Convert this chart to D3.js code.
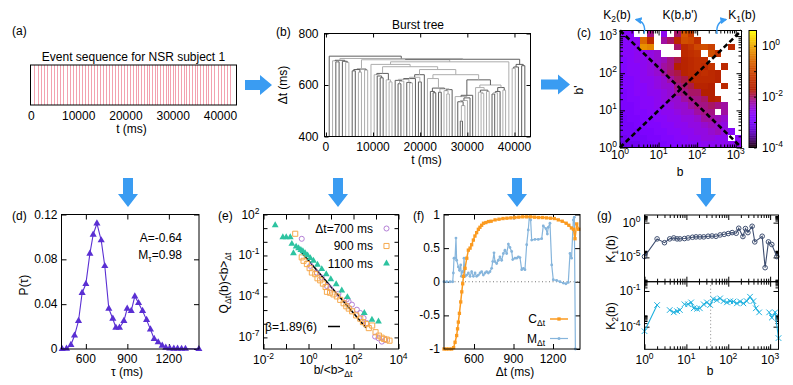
<html>
<head>
<meta charset="utf-8">
<script src="https://d3js.org/d3.v7.min.js"></script>
<style>
  body { margin: 0; background: #fff; }
  svg text { font-family: "Liberation Sans", Arial, sans-serif; font-size: 12px; fill: #000; }
</style>
</head>
<body>
<svg id="fig" width="793" height="385"></svg>
<script>
// ---------------- data ----------------

// (a),(b): first event time and the inter-event times (ms) of the shown sequence
const t0 = 700;
const gaps = [712, 694, 690, 696, 692, 688, 703,
  655, 660, 650, 662, 658, 698,
  680, 640, 635, 628, 645, 620, 612, 671, 618, 605, 615, 622, 610, 608, 625, 630, 612, 640, 660, 625,
  575, 570, 588, 572, 585, 578, 565, 582, 640,
  555, 535, 460, 520, 540, 550, 560,
  620, 590, 572, 568, 580, 575, 600, 565, 570, 575, 590, 580,
  690, 700, 665, 670, 680, 675];

// (c): log10 K(b,b'), rows from top (large b') to bottom, columns small b -> large b; null = empty
const hmVals = [
  [-2.7,-2.7,null,null,-2.1,null,-2.6,null,-2.0,-0.8,-1.2,null,null,null,null,null,null,null],
  [-2.7,-2.7,-2.6,-0.6,-1.5,null,-2.2,-2.0,-1.5,-0.9,-1.0,-1.4,null,null,null,null,null,null],
  [-2.7,-2.7,-2.6,-0.2,-0.3,null,null,null,-2.0,-1.5,-1.3,-1.0,-0.9,-1.1,null,null,-1.5,null],
  [-2.7,-2.7,-2.6,-2.6,-2.5,-2.4,null,null,null,-1.5,-1.4,-1.3,null,-0.9,-1.3,null,null,null],
  [-2.8,-2.7,-2.6,-2.6,-2.5,-2.4,-2.3,-2.1,-1.9,-1.6,-1.5,-1.4,-1.4,null,null,null,null,null],
  [-2.8,-2.7,-2.7,-2.6,-2.5,-2.4,-2.2,-2.1,-1.7,-1.6,-1.5,-1.4,-1.5,-1.3,null,-1.5,null,null],
  [-2.8,-2.7,-2.7,-2.6,-2.5,-2.4,-2.2,-2.0,-1.9,-1.6,-1.5,-1.5,-1.4,-1.5,-1.6,null,null,null],
  [-2.8,-2.8,-2.7,-2.6,-2.6,-2.5,-2.4,-2.2,-2.0,-1.9,-1.6,-1.5,-1.5,-1.5,-1.6,null,null,null],
  [-2.8,-2.8,-2.7,-2.7,-2.6,-2.5,-2.4,-2.4,-2.1,-2.0,-1.9,-1.6,-1.6,-1.7,null,-1.5,null,null],
  [-2.9,-2.8,-2.7,-2.7,-2.6,-2.6,-2.5,-2.4,-2.2,-2.1,-2.0,-2.0,-1.7,-1.7,null,null,null,null],
  [-2.9,-2.8,-2.8,-2.7,-2.7,-2.6,-2.5,-2.4,-2.4,-2.2,-2.1,-2.1,-2.0,-1.7,-1.6,null,null,null],
  [-2.9,-2.9,-2.8,-2.7,-2.7,-2.6,-2.6,-2.5,-2.4,-2.4,-2.2,-2.1,-2.1,-2.0,-2.1,-2.2,null,null],
  [-2.9,-2.9,-2.8,-2.8,-2.7,-2.7,-2.6,-2.6,-2.5,-2.4,-2.4,-2.2,-2.1,-2.1,null,-2.2,null,null],
  [-3.0,-2.9,-2.9,-2.8,-2.8,-2.7,-2.7,-2.6,-2.6,-2.5,-2.5,-2.4,-2.2,-2.2,-2.3,-2.4,null,null],
  [-3.0,-3.0,-2.9,-2.9,-2.8,-2.8,-2.7,-2.7,-2.6,-2.6,-2.5,-2.5,-2.4,-2.3,-2.4,-2.5,null,null],
  [-3.0,-3.0,-3.0,-2.9,-2.9,-2.8,-2.8,-2.7,-2.7,-2.6,-2.6,-2.5,-2.5,-2.4,-2.3,-2.5,-2.7,null],
  [-3.1,-3.0,-3.0,-3.0,-2.9,-2.9,-2.8,-2.8,-2.7,-2.7,-2.6,-2.6,-2.5,-2.5,-2.6,-2.6,null,-2.7],
  [-3.2,-3.1,-3.1,-3.0,-3.0,-2.9,-2.9,-2.8,-2.8,-2.7,-2.7,-2.7,-2.6,-2.6,-2.6,-2.6,-2.6,-2.6]
];
const bMax = 1413;

// (d): P(tau)
const tauD = [429, 460, 492, 518, 547, 573, 600, 629, 653, 680, 711, 737, 766, 795, 817, 843, 875, 899,
  928, 954, 981, 1010, 1039, 1067, 1094, 1123, 1152, 1178, 1207, 1236, 1263, 1292, 1320, 1417];
const pTau = [0, 0.0003, 0.0036, 0.012, 0.025, 0.050, 0.058, 0.085, 0.102, 0.112, 0.097, 0.074, 0.036, 0.027,
  0.019, 0.019, 0.025, 0.036, 0.034, 0.047, 0.041, 0.034, 0.026, 0.0175, 0.009, 0.006, 0.003, 0.0012,
  0.0006, 0.0003, 0.0003, 0.0002, 0.0002, 0];

// (e): [log10(b/<b>), log10(Q<b>)] for the three windows
const q700 = [[-0.30,0.22],[0.08,-1.76],[0.37,-2.25],[0.59,-2.62],[0.82,-3.24],[0.96,-3.41],[1.33,-3.81],
  [1.70,-4.22],[1.78,-4.35],[1.93,-4.60],[2.15,-4.97],[2.30,-5.21],[2.45,-5.58],[2.59,-5.95],[2.96,-6.94],
  [3.11,-7.06],[3.26,-7.31],[3.41,-7.19]];
const q900 = [[-0.59,0.59],[-0.30,-1.14],[-0.22,-1.39],[-0.07,-1.63],[0.05,-1.93],[0.15,-2.25],[0.30,-2.37],
  [0.40,-2.67],[0.52,-2.82],[0.64,-3.06],[0.76,-3.31],[0.82,-3.66],[0.96,-3.73],[1.11,-3.85],[1.26,-4.00],
  [1.41,-4.25],[1.56,-4.50],[1.68,-4.72],[1.79,-4.89],[1.94,-5.09],[2.12,-5.39],[2.30,-5.63],[2.42,-5.88],
  [2.56,-6.03],[2.68,-6.32],[2.83,-6.13],[2.98,-6.62],[3.13,-6.87],[3.25,-7.02],[3.36,-7.11],[3.48,-7.16],[3.60,-7.24]];
const q1100 = [[-1.48,1.21],[-1.14,0.34],[-0.99,0.34],[-0.81,0.34],[-0.74,-0.15],[-0.67,-0.84],[-0.55,-0.35],
  [-0.44,-0.47],[-0.34,-0.60],[-0.25,-0.69],[-0.15,-0.84],[-0.04,-0.99],[0.08,-1.19],[0.22,-1.39],[0.40,-1.68],
  [0.59,-2.00],[0.79,-2.37],[0.99,-2.74],[1.23,-3.11],[1.48,-3.56],[1.73,-4.05],[2.48,-5.21],[2.82,-5.71],[3.11,-5.83]];
const fitB = [0.45, 360];
const fitQ = [0.2, 5e-7];

// (f): C and M versus Delta t
const cDt = [372, 390, 410, 430, 445, 456, 468, 475, 481, 489, 499, 507, 514, 520, 532, 545, 557, 570, 582, 595,
  607, 620, 633, 645, 658, 672, 690, 710, 730, 760, 790, 820, 850, 880, 910, 940, 970, 1000, 1030, 1060,
  1090, 1120, 1150, 1180, 1210, 1240, 1270, 1300, 1320, 1340, 1355, 1367, 1380, 1395];
const cVal = [-1, -1, -1, -1, -0.98, -0.9, -0.8, -0.7, -0.6, -0.47, -0.3, -0.15, -0.03, 0.08, 0.2, 0.35, 0.47, 0.5, 0.55, 0.62,
  0.68, 0.73, 0.78, 0.81, 0.84, 0.87, 0.88, 0.895, 0.9, 0.92, 0.93, 0.94, 0.945, 0.95, 0.955, 0.96, 0.965, 0.965, 0.965, 0.96,
  0.955, 0.955, 0.95, 0.945, 0.94, 0.92, 0.9, 0.87, 0.84, 0.8, 0.78, 0.64, 0.86, 0.78];
const mDt = [372, 393, 418, 438, 443, 448, 456, 463, 468, 481, 489, 499, 504, 512, 519, 524, 532, 544, 557, 570,
  582, 595, 608, 620, 633, 646, 658, 671, 684, 696, 709, 721, 734, 742, 752, 759, 772, 785, 797, 810,
  823, 835, 848, 861, 873, 886, 894, 911, 924, 937, 949, 962, 975, 987, 1000, 1012, 1020, 1030, 1038, 1063,
  1088, 1114, 1126, 1146, 1157, 1164, 1177, 1190, 1202, 1228, 1253, 1278, 1298, 1316, 1329, 1341, 1354, 1362, 1370];
const mVal = [0, 0, 0, 0, 0.13, 0.35, 0.35, 0.65, 0.32, 0.22, 0.17, 0.25, 0.08, 0.15, 0.15, 0.35, 0.08, 0.1, 0.13, 0.08,
  0.15, 0.08, 0.13, 0.08, 0.1, 0.13, 0.15, 0.1, 0.13, 0.15, 0.13, 0.15, 0.2, 0.3, 0.43, 0.3, 0.27, 0.32, 0.37, 0.32,
  0.42, 0.47, 0.42, 0.56, 0.51, 0.45, 0.33, 0.35, 0.35, 0.37, 0.36, 0.18, 0.2, 0.18, 0.55, 0.77, 0.96, 0.92, 0.62, 0.63,
  0.63, 0.64, 0.83, 0.79, 0.71, 0.81, 0.87, 0.25, 0.03, 0.02, 0.0, -0.02, -0.03, -0.01, 0.42, 0.35, 0.92, 0.96, -1.0];

// (g): K1(b), K2(b)
const k1B = [1, 2, 3, 4, 5, 6, 7, 9, 11, 14, 17, 21, 26, 33, 41, 51, 64, 80, 100, 124, 155, 178, 224, 257, 295, 372, 430, 646, 759, 912, 1096, 1445];
const k1 = [1.3e-5, 4.6e-3, 1.3e-3, 4.6e-3, 6.3e-3, 4.6e-3, 4.6e-3, 5.1e-3, 6.3e-3, 7.9e-3, 8.9e-3, 8.9e-3, 8.9e-3, 1.1e-2,
  1.2e-2, 1.1e-2, 1.7e-2, 2.1e-2, 2.7e-2, 3.7e-2, 3.0e-2, 0.155, 1.0e-2, 0.14, 3.7e-2, 0.3, 1.7e-3, 1.1e-2, 3.3e-7, 1.7e-3, 7.2e-4, 1.3e-5];
const k2B = [1, 2, 3, 4, 5, 6, 7, 8, 9, 11, 13, 15, 18, 21, 26, 31, 37, 44, 53, 64, 77, 93, 111, 133, 161, 192, 230, 276, 331, 398,
  456, 547, 650, 800, 950, 1096, 1318, 1585];
const k2 = [4.2e-5, 6.6e-3, null, 2.5e-3, 1.6e-3, 2.0e-3, 2.5e-3, null, 7.6e-3, 7.6e-3, 1.1e-2, 3.5e-3, 3.2e-3, 3.5e-3, 7.6e-3,
  1.1e-2, 6.6e-3, 2.1e-2, 1.7e-2, 2.4e-2, 1.4e-2, 1.1e-2, 1.4e-2, 1.3e-2, 9.1e-3, 1.3e-2, 9.1e-3, 1.4e-2, 3.3e-2, 1.4e-2,
  3.5e-3, 1.6e-3, null, null, 1.6e-3, 5.8e-4, 1.6e-3, 1.1e-5];
const bStar = 38;

// ---------------- drawing ----------------
const svg = d3.select("#fig");
const BLUE = "#3a9cf2";

function txt(g, x, y, anchor) {
  return g.append("text").attr("x", x).attr("y", y).attr("text-anchor", anchor || "middle");
}
function sup(t, base, e) {
  t.text(base);
  t.append("tspan").attr("dy", -5).attr("font-size", "8.5px").text(e);
  return t;
}
function sub(t, base, s, rest) {
  t.text(base);
  t.append("tspan").attr("dy", 3).attr("font-size", "8.5px").text(s);
  if (rest) t.append("tspan").attr("dy", -3).text(rest);
  return t;
}
function frame(g, w, h) {
  g.append("rect").attr("width", w).attr("height", h)
    .attr("fill", "none").attr("stroke", "#000").attr("stroke-width", 1);
}
// inward ticks on both sides
function ticksX(g, x, h, vals, len) {
  g.append("g").attr("transform", `translate(0,${h})`)
    .call(d3.axisBottom(x).tickValues(vals).tickSize(-len).tickFormat(""))
    .call(a => a.select(".domain").remove());
  g.append("g")
    .call(d3.axisTop(x).tickValues(vals).tickSize(-len).tickFormat(""))
    .call(a => a.select(".domain").remove());
}
function ticksY(g, y, w, vals, len) {
  g.append("g")
    .call(d3.axisLeft(y).tickValues(vals).tickSize(-len).tickFormat(""))
    .call(a => a.select(".domain").remove());
  g.append("g").attr("transform", `translate(${w},0)`)
    .call(d3.axisRight(y).tickValues(vals).tickSize(-len).tickFormat(""))
    .call(a => a.select(".domain").remove());
}
function logMinors(lo, hi) {
  const out = [];
  for (let k = Math.floor(Math.log10(lo)); k <= Math.ceil(Math.log10(hi)); k++)
    for (let m = 2; m <= 9; m++) { const v = m * 10 ** k; if (v > lo && v < hi) out.push(v); }
  return out;
}

// big blue arrows between panels
function rightArrow(x0, x1, cy) {
  svg.append("polygon").attr("fill", BLUE)
    .attr("points", [[x0, cy - 5], [x1 - 12, cy - 5], [x1 - 12, cy - 10], [x1, cy], [x1 - 12, cy + 10], [x1 - 12, cy + 5], [x0, cy + 5]].join(" "));
}
function downArrow(cx, y0, y1) {
  svg.append("polygon").attr("fill", BLUE)
    .attr("points", [[cx - 5, y0], [cx + 5, y0], [cx + 5, y1 - 13], [cx + 10, y1 - 13], [cx, y1], [cx - 10, y1 - 13], [cx - 5, y1 - 13]].join(" "));
}
rightArrow(245, 272, 85);
rightArrow(541, 570, 84.5);
[128, 338, 517, 706].forEach(cx => downArrow(cx, 178, 207));

// events
const events = [t0];
gaps.forEach(g => events.push(events[events.length - 1] + g));

// ---- (a) event sequence ----
const wa = 206, ha = 40;
const pa = svg.append("g").attr("transform", "translate(30.5,65)");
const xa = d3.scaleLinear().domain([-200, 43400]).range([0, wa]);
pa.selectAll("line.ev").data(events).join("line").attr("class", "ev")
  .attr("x1", d => xa(d)).attr("x2", d => xa(d)).attr("y1", 0).attr("y2", ha)
  .attr("stroke", "#f3a2b0").attr("stroke-width", 1).attr("shape-rendering", "crispEdges");
frame(pa, wa, ha);
[0, 10000, 20000, 30000, 40000].forEach(v => txt(pa, xa(v), 55).text(v));
txt(pa, 101, 67.5).text("t (ms)");
txt(pa, 103, -4.5).text("Event sequence for NSR subject 1");
txt(svg, 12, 35, "start").text("(a)");

// ---- (b) burst tree ----
const wb = 206, hb = 103;
const pb = svg.append("g").attr("transform", "translate(324.5,33.5)");
const xb = d3.scaleLinear().domain([-300, 43400]).range([0, wb]);
const yb = d3.scaleLinear().domain([400, 800]).range([hb, 0]);
const owner = events.map(t => ({ x: t, h: 400 }));
const treeSegs = [];
d3.range(gaps.length).sort((a, b) => gaps[a] - gaps[b]).forEach((k, n) => {
  const A = owner[k], B = owner[k + 1], h = gaps[k];
  const c = n % 2 ? "#adadad" : "#5e5e5e";
  treeSegs.push({ x1: A.x, y1: A.h, x2: A.x, y2: h, c });
  treeSegs.push({ x1: B.x, y1: B.h, x2: B.x, y2: h, c });
  treeSegs.push({ x1: A.x, y1: h, x2: B.x, y2: h, c });
  const M = { x: (A.x + B.x) / 2, h };
  owner.forEach((o, i) => { if (o === A || o === B) owner[i] = M; });
});
pb.selectAll("line.tr").data(treeSegs).join("line").attr("class", "tr")
  .attr("x1", d => xb(d.x1)).attr("x2", d => xb(d.x2))
  .attr("y1", d => yb(d.y1)).attr("y2", d => yb(d.y2))
  .attr("stroke", d => d.c).attr("stroke-width", 1);
ticksX(pb, xb, hb, [0, 10000, 20000, 30000, 40000], 4);
ticksY(pb, yb, wb, [400, 600, 800], 4);
frame(pb, wb, hb);
[0, 10000, 20000, 30000, 40000].forEach(v => txt(pb, xb(v), hb + 14.5).text(v));
[400, 600, 800].forEach(v => txt(pb, -6, yb(v) + 4, "end").text(v));
txt(pb, 102, hb + 27).text("t (ms)");
txt(pb, 93.5, -4.5).text("Burst tree");
txt(svg, 276, 36, "start").text("(b)");
svg.append("text").attr("transform", "translate(287,85) rotate(-90)").attr("text-anchor", "middle").text("Δt (ms)");

// ---- (c) K(b,b') heat map ----
const wc = 121.5, hc = 117;
const pc = svg.append("g").attr("transform", "translate(620,30.5)");
const xc = d3.scaleLog().domain([1, bMax]).range([0, wc]);
const yc = d3.scaleLog().domain([1, bMax]).range([hc, 0]);
const gnuPal = t => {
  t = Math.max(0, Math.min(1, t));
  return d3.rgb(255 * Math.sqrt(t), 255 * t * t * t, 255 * Math.max(0, Math.sin(2 * Math.PI * t))).formatHex();
};
const colK = d3.scaleSequential(gnuPal).domain([-4, 0.6]);
const nR = hmVals.length, nC = hmVals[0].length;
const lStep = Math.log10(bMax) / nC;
const cells = [];
hmVals.forEach((row, r) => row.forEach((v, c) => { if (v !== null) cells.push({ r, c, v }); }));
pc.selectAll("rect.cell").data(cells).join("rect").attr("class", "cell")
  .attr("x", d => xc(10 ** (d.c * lStep)))
  .attr("width", d => xc(10 ** ((d.c + 1) * lStep)) - xc(10 ** (d.c * lStep)))
  .attr("y", d => yc(10 ** ((nR - d.r) * lStep)))
  .attr("height", d => yc(10 ** ((nR - d.r - 1) * lStep)) - yc(10 ** ((nR - d.r) * lStep)))
  .attr("fill", d => colK(d.v)).attr("shape-rendering", "crispEdges");
const dashLines = [[[1, 1], [bMax, bMax]], [[1, bMax], [bMax, 1]]];
pc.selectAll("line.dg").data(dashLines).join("line").attr("class", "dg")
  .attr("x1", d => xc(d[0][0])).attr("y1", d => yc(d[0][1]))
  .attr("x2", d => xc(d[1][0])).attr("y2", d => yc(d[1][1]))
  .attr("stroke", "#000").attr("stroke-width", 2.6).attr("stroke-dasharray", "5,3");
ticksX(pc, xc, hc, [1, 10, 100, 1000], 5);
ticksX(pc, xc, hc, logMinors(1, bMax), 3);
ticksY(pc, yc, wc, [1, 10, 100, 1000], 5);
ticksY(pc, yc, wc, logMinors(1, bMax), 3);
frame(pc, wc, hc);
[0, 1, 2, 3].forEach(e => sup(txt(pc, xc(10 ** e), hc + 11.5), "10", e));
[0, 1, 2, 3].forEach(e => sup(txt(pc, -3, yc(10 ** e) + 4, "end"), "10", e));
txt(svg, 577, 37, "start").text("(c)");
svg.append("text").attr("transform", "translate(583,90) rotate(-90)").attr("text-anchor", "middle").text("b'");
txt(svg, 680, 176).text("b");
sub(txt(svg, 617, 19), "K", "2", "(b)");
txt(svg, 680, 19).text("K(b,b')");
sub(txt(svg, 742, 19), "K", "1", "(b)");
// colour box
const cb = svg.append("g").attr("transform", "translate(749,30.5)");
const ycb = d3.scaleLinear().domain([-4, 0.6]).range([hc, 0]);
cb.selectAll("rect").data(d3.range(-4, 0.6, 0.025)).join("rect")
  .attr("x", 0).attr("width", 7.5)
  .attr("y", d => ycb(d + 0.025)).attr("height", d => ycb(d) - ycb(d + 0.025) + 0.3)
  .attr("fill", d => colK(d + 0.0125));
cb.append("g").attr("transform", "translate(7.5,0)")
  .call(d3.axisRight(ycb).tickValues([-4, -3, -2, -1, 0]).tickSize(-2.5).tickFormat(""))
  .call(a => a.select(".domain").remove());
frame(cb, 7.5, hc);
[0, -2, -4].forEach(e => sup(txt(cb, 13, ycb(e) + 4, "start"), "10", e));
// curved arrows to K1, K2
const defs = svg.append("defs");
defs.append("marker").attr("id", "ah").attr("viewBox", "0 0 10 10").attr("refX", 8).attr("refY", 5)
  .attr("markerWidth", 5).attr("markerHeight", 5).attr("orient", "auto")
  .append("path").attr("d", "M0,0L10,5L0,10z").attr("fill", BLUE);
svg.append("path").attr("d", "M644,34 C646,26 643,21 636,19.5").attr("fill", "none")
  .attr("stroke", BLUE).attr("stroke-width", 1.4).attr("marker-end", "url(#ah)");
svg.append("path").attr("d", "M717,34 C716,26 719,21 726,19.5").attr("fill", "none")
  .attr("stroke", BLUE).attr("stroke-width", 1.4).attr("marker-end", "url(#ah)");

// ---- (d) P(tau) ----
const wd = 137.5, hd = 134.5;
const pd = svg.append("g").attr("transform", "translate(61.5,214.5)");
const xd = d3.scaleLinear().domain([424, 1418]).range([0, wd]);
const yd = d3.scaleLinear().domain([0, 0.12]).range([hd, 0]);
const PUR = "#5a2fd3";
ticksX(pd, xd, hd, [600, 900, 1200], 5);
ticksY(pd, yd, wd, [0, 0.04, 0.08, 0.12], 5);
pd.append("path").attr("d", d3.line().x((d, i) => xd(tauD[i])).y(d => yd(d))(pTau))
  .attr("fill", "none").attr("stroke", PUR).attr("stroke-width", 1.1);
pd.selectAll("path.tri").data(pTau).join("path").attr("class", "tri")
  .attr("d", d3.symbol(d3.symbolTriangle, 22))
  .attr("transform", (d, i) => `translate(${xd(tauD[i])},${yd(d)})`).attr("fill", PUR);
frame(pd, wd, hd);
[600, 900, 1200].forEach(v => txt(pd, xd(v), hd + 13.5).text(v));
[0, 0.04, 0.08, 0.12].forEach(v => txt(pd, -4, yd(v) + 4, "end").text(v));
txt(pd, 65.5, hd + 26.5).text("τ (ms)");
txt(pd, 120.5, 27.5, "end").text("A=-0.64");
sub(txt(pd, 120.5, 44.5, "end"), "M", "τ", "=0.98");
txt(svg, 12, 219.5, "start").text("(d)");
svg.append("text").attr("transform", "translate(28,285) rotate(-90)").attr("text-anchor", "middle").text("P(τ)");

// ---- (e) Q(b) scaling ----
const we = 135, he = 134.5;
const pe = svg.append("g").attr("transform", "translate(263.5,214.5)");
const xe = d3.scaleLog().domain([0.01, 1e4]).range([0, we]);
const ye = d3.scaleLog().domain([10 ** -7.85, 100]).range([he, 0]);
ticksX(pe, xe, he, [1e-2, 1e-1, 1, 10, 100, 1e3, 1e4], 5);
ticksY(pe, ye, we, [1e-7, 1e-6, 1e-5, 1e-4, 1e-3, 1e-2, 1e-1, 1, 10, 100], 4);
const COL700 = "#b47fd6", COL900 = "#f6a94e", COL1100 = "#2dc3a0";
pe.append("path")
  .attr("d", d3.line().x((d, i) => xe(d)).y((d, i) => ye(fitQ[i]))(fitB))
  .attr("stroke", "#000").attr("stroke-width", 1.6).attr("fill", "none");
pe.selectAll("path.s700").data(q700).join("path").attr("class", "s700")
  .attr("d", d3.symbol(d3.symbolCircle, 20))
  .attr("transform", d => `translate(${xe(10 ** d[0])},${ye(10 ** d[1])})`)
  .attr("fill", "none").attr("stroke", COL700).attr("stroke-width", 1);
pe.selectAll("path.s900").data(q900).join("path").attr("class", "s900")
  .attr("d", d3.symbol(d3.symbolSquare, 26))
  .attr("transform", d => `translate(${xe(10 ** d[0])},${ye(10 ** d[1])})`)
  .attr("fill", "none").attr("stroke", COL900).attr("stroke-width", 1);
pe.selectAll("path.s1100").data(q1100).join("path").attr("class", "s1100")
  .attr("d", d3.symbol(d3.symbolTriangle, 20))
  .attr("transform", d => `translate(${xe(10 ** d[0])},${ye(10 ** d[1])})`)
  .attr("fill", COL1100);
frame(pe, we, he);
[-2, 0, 2, 4].forEach(e => sup(txt(pe, xe(10 ** e), he + 15), "10", e));
[2, -1, -4, -7].forEach(e => sup(txt(pe, -4, ye(10 ** e) + 4, "end"), "10", e));
// legend
const legE = [["Δt=700 ms", COL700, d3.symbolCircle, false], ["900 ms", COL900, d3.symbolSquare, false], ["1100 ms", COL1100, d3.symbolTriangle, true]];
legE.forEach((l, i) => {
  txt(pe, 109.5, 18 + i * 17.5, "end").text(l[0]);
  pe.append("path").attr("d", d3.symbol(l[2], l[2] === d3.symbolSquare ? 26 : 20))
    .attr("transform", `translate(123,${14 + i * 17.5})`)
    .attr("fill", l[3] ? l[1] : "none").attr("stroke", l[3] ? "none" : l[1]);
});
txt(pe, 1.5, 116, "start").text("β=1.89(6)");
pe.append("line").attr("x1", 64.5).attr("x2", 76.5).attr("y1", 112).attr("y2", 112).attr("stroke", "#000").attr("stroke-width", 1.5);
sub(txt(pe, 69.5, 159.5), "b/<b>", "Δt");
txt(svg, 218, 219.5, "start").text("(e)");
{
  const t = svg.append("text").attr("transform", "translate(227.5,283) rotate(-90)").attr("text-anchor", "middle");
  t.text("Q");
  t.append("tspan").attr("dy", 3).attr("font-size", "8.5px").text("Δt");
  t.append("tspan").attr("dy", -3).text("(b)<b>");
  t.append("tspan").attr("dy", 3).attr("font-size", "8.5px").text("Δt");
}

// ---- (f) C and M ----
const wf = 136, hf = 134.5;
const pf = svg.append("g").attr("transform", "translate(444,214.5)");
const xf = d3.scaleLinear().domain([372, 1405]).range([0, wf]);
const yf = d3.scaleLinear().domain([-1, 1]).range([hf, 0]);
const ORG = "#fb9a1f", LBL = "#86b5dc";
ticksX(pf, xf, hf, [600, 900, 1200], 5);
ticksY(pf, yf, wf, [-1, -0.5, 0, 0.5, 1], 5);
pf.append("line").attr("x1", 0).attr("x2", wf).attr("y1", yf(0)).attr("y2", yf(0))
  .attr("stroke", "#777").attr("stroke-dasharray", "1,2.5");
pf.append("path").attr("d", d3.line().x((d, i) => xf(mDt[i])).y(d => yf(d))(mVal))
  .attr("fill", "none").attr("stroke", LBL).attr("stroke-width", 1.2);
pf.selectAll("circle.m").data(mVal).join("circle").attr("class", "m")
  .attr("cx", (d, i) => xf(mDt[i])).attr("cy", d => yf(d)).attr("r", 1.4).attr("fill", LBL);
pf.append("path").attr("d", d3.line().x((d, i) => xf(cDt[i])).y(d => yf(d))(cVal))
  .attr("fill", "none").attr("stroke", ORG).attr("stroke-width", 1.5);
pf.selectAll("path.c").data(cVal).join("path").attr("class", "c")
  .attr("d", d3.symbol(d3.symbolSquare, 11))
  .attr("transform", (d, i) => `translate(${xf(cDt[i])},${yf(d)})`).attr("fill", ORG);
frame(pf, wf, hf);
[600, 900, 1200].forEach(v => txt(pf, xf(v), hf + 13.5).text(v));
[-1, -0.5, 0, 0.5, 1].forEach(v => txt(pf, -4, yf(v) + 4, "end").text(v));
sub(txt(pf, 101, 108.5, "end"), "C", "Δt");
pf.append("line").attr("x1", 106).attr("x2", 124).attr("y1", 104.5).attr("y2", 104.5).attr("stroke", ORG).attr("stroke-width", 1.5);
pf.append("path").attr("d", d3.symbol(d3.symbolSquare, 11)).attr("transform", "translate(115,104.5)").attr("fill", ORG);
sub(txt(pf, 101, 128, "end"), "M", "Δt");
pf.append("line").attr("x1", 106).attr("x2", 124).attr("y1", 124).attr("y2", 124).attr("stroke", LBL).attr("stroke-width", 1.2);
pf.append("circle").attr("cx", 115).attr("cy", 124).attr("r", 1.5).attr("fill", LBL);
txt(pf, 71, hf + 26.5).text("Δt (ms)");
txt(svg, 413, 219.5, "start").text("(f)");

// ---- (g) K1(b), K2(b) ----
const wg = 134, hg1 = 66.7, hg2 = 67.6;
const pg1 = svg.append("g").attr("transform", "translate(644.5,215)");
const pg2 = svg.append("g").attr("transform", "translate(644.5,281.7)");
const xg = d3.scaleLog().domain([1, 10 ** 3.2]).range([0, wg]);
const yg1 = d3.scaleLog().domain([10 ** -8.5, 10 ** 1.1]).range([hg1, 0]);
const yg2 = d3.scaleLog().domain([10 ** -5.9, 10 ** -0.22]).range([hg2, 0]);
const K1C = "#3e4e70", K2C = "#1fb1df";
[[pg1, hg1], [pg2, hg2]].forEach(([g, h]) => {
  ticksX(g, xg, h, [1, 10, 100, 1000], 5);
  ticksX(g, xg, h, logMinors(1, 10 ** 3.2), 3);
});
ticksY(pg1, yg1, wg, [1e-5, 1], 5);
ticksY(pg1, yg1, wg, [1e-5, 1].flatMap(m => d3.range(2, 10).map(k => k * m)), 3);
ticksY(pg2, yg2, wg, [1e-4, 1e-1], 5);
ticksY(pg2, yg2, wg, [1e-4, 1e-1].flatMap(m => d3.range(2, 10).map(k => k * m)), 3);
pg1.append("path").attr("d", d3.line().x((d, i) => xg(k1B[i])).y(d => yg1(d))(k1))
  .attr("fill", "none").attr("stroke", K1C).attr("stroke-width", 1.1);
pg1.selectAll("circle.k1").data(k1).join("circle").attr("class", "k1")
  .attr("cx", (d, i) => xg(k1B[i])).attr("cy", d => yg1(d)).attr("r", 2.3)
  .attr("fill", "none").attr("stroke", K1C).attr("stroke-width", 1);
pg2.append("line").attr("x1", xg(bStar)).attr("x2", xg(bStar)).attr("y1", 0).attr("y2", hg2)
  .attr("stroke", "#888").attr("stroke-dasharray", "1,2.5");
pg2.append("path").attr("d", d3.line().defined(d => d !== null).x((d, i) => xg(k2B[i])).y(d => yg2(d))(k2))
  .attr("fill", "none").attr("stroke", K2C).attr("stroke-width", 1.1);
pg2.selectAll("path.k2").data(k2.map((v, i) => [k2B[i], v]).filter(d => d[1] !== null)).join("path").attr("class", "k2")
  .attr("d", d3.symbol(d3.symbolX, 22))
  .attr("transform", d => `translate(${xg(d[0])},${yg2(d[1])})`)
  .attr("fill", "none").attr("stroke", K2C).attr("stroke-width", 1);
frame(pg1, wg, hg1);
frame(pg2, wg, hg2);
[0, -5].forEach(e => sup(txt(pg1, -4, yg1(10 ** e) + 4, "end"), "10", e));
[-1, -4].forEach(e => sup(txt(pg2, -4, yg2(10 ** e) + 4, "end"), "10", e));
[0, 1, 2, 3].forEach(e => sup(txt(pg2, xg(10 ** e), hg2 + 15), "10", e));
txt(svg, 710, 375).text("b");
txt(svg, 597, 219.5, "start").text("(g)");
sub(svg.append("text").attr("transform", "translate(615,249) rotate(-90)").attr("text-anchor", "middle"), "K", "1", "(b)");
sub(svg.append("text").attr("transform", "translate(615,316) rotate(-90)").attr("text-anchor", "middle"), "K", "2", "(b)");
</script>
</body>
</html>
